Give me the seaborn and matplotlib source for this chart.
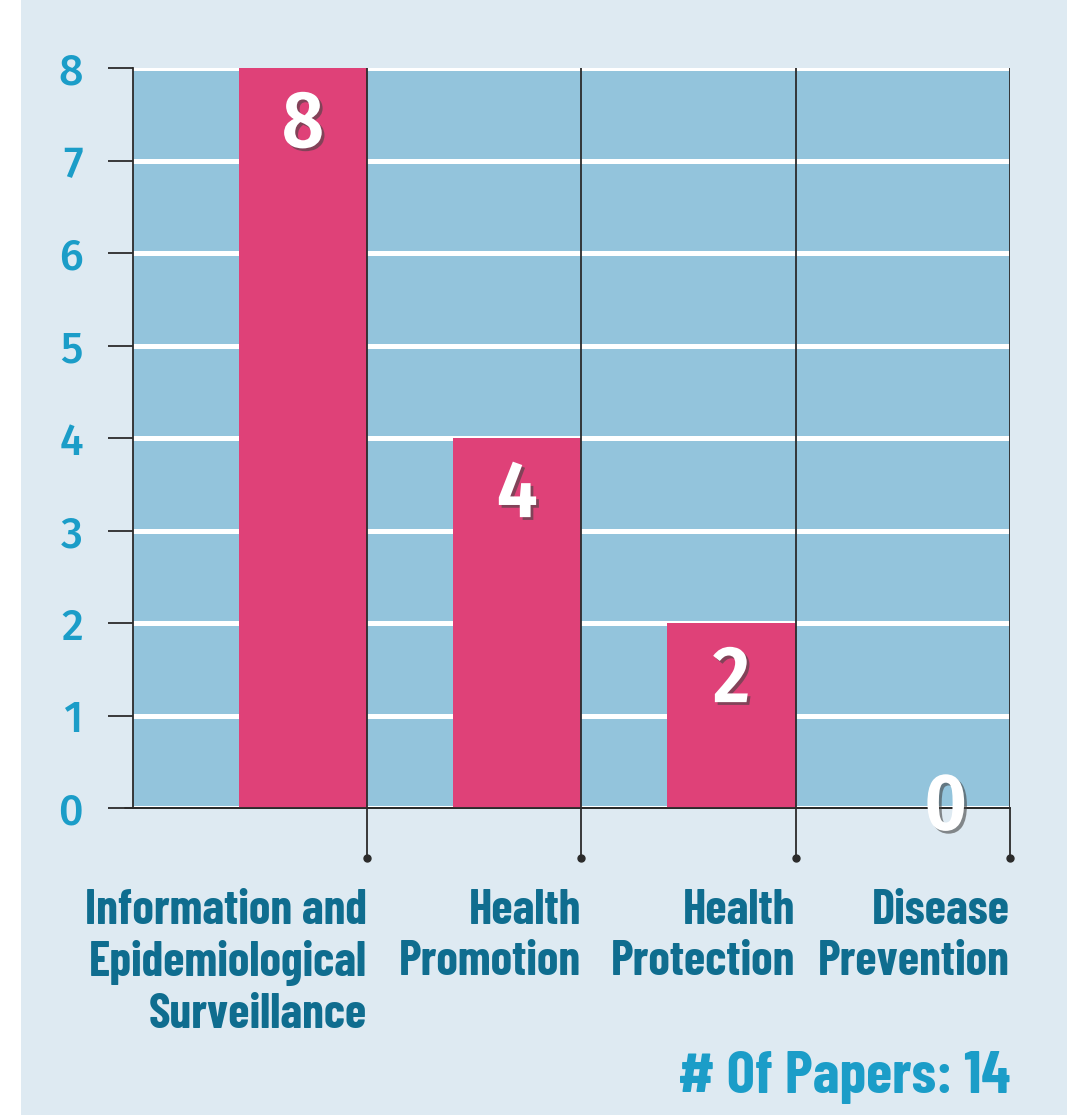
import matplotlib
matplotlib.use("Agg")
import matplotlib.pyplot as plt
import matplotlib.patheffects as pe
from matplotlib.patches import Rectangle
import seaborn as sns

categories = [
    "Information and\nEpidemiological\nSurveillance",
    "Health\nPromotion",
    "Health\nProtection",
    "Disease\nPrevention",
]
counts = [8, 4, 2, 0]
y_ticks = [0, 1, 2, 3, 4, 5, 6, 7, 8]
footer = "# Of Papers: 14"

PANEL = "#deeaf2"
PLOT_BG = "#93c4dc"
BAR = "#df4178"
TEAL_DARK = "#0f6d8f"
TEAL = "#1b9dc8"
LINE = "#2b2b2b"

LABEL_FONT = ["Barlow Condensed", "DejaVu Sans"]
NUM_FONT = ["Fira Sans Condensed", "Barlow Semi Condensed", "DejaVu Sans"]
TICK_FONT = ["Fira Sans", "Barlow", "DejaVu Sans"]

sns.set_theme(style="white")
plt.rcParams["font.family"] = LABEL_FONT

fig = plt.figure(figsize=(10.67, 11.15), dpi=100)
fig.patch.set_facecolor("white")
fig.add_artist(Rectangle((21 / 1067, 0), 1, 1, transform=fig.transFigure,
                         facecolor=PANEL, edgecolor="none", zorder=0))
ax = fig.add_axes([133 / 1067, 307 / 1115, 877 / 1067, 740 / 1115])
ax.set_facecolor(PLOT_BG)

sns.barplot(x=list(range(len(counts))), y=counts, color=BAR, saturation=1,
            width=0.6, linewidth=0, ax=ax, zorder=3)

ax.set_ylim(0, 8)
ax.set_xlim(-0.793, 3.3)
ax.set_yticks(y_ticks)
ax.yaxis.grid(True, color="white", linewidth=3.6)
ax.xaxis.grid(False)
ax.set_axisbelow(True)
ax.set_xlabel("")
ax.set_ylabel("")

for side in ["top", "right"]:
    ax.spines[side].set_visible(False)
for side in ["left", "bottom"]:
    ax.spines[side].set_color(LINE)
    ax.spines[side].set_linewidth(1.3)

ax.tick_params(axis="y", left=True, length=18, width=1.3, color=LINE, pad=18,
               labelsize=31, labelcolor=TEAL)
for lab in ax.get_yticklabels():
    lab.set_family(TICK_FONT)
    lab.set_fontweight("medium")

bounds = [i + 0.3 for i in range(len(counts))]
ax.set_xticks(bounds)
ax.set_xticklabels(categories, ha="right", multialignment="right",
                   fontsize=35, fontweight="bold", color=TEAL_DARK,
                   linespacing=1.2)
ax.tick_params(axis="x", bottom=True, length=36, width=1.3, color=LINE, pad=22)

# category separators through the plot and dots at the tick ends
ax.vlines(bounds, 0, 8, color=LINE, linewidth=1.3, zorder=4)
ax.plot(bounds, [-0.54] * len(bounds), "o", ms=5, color=LINE, clip_on=False, zorder=5)
ax.plot([-0.83, 3.3], [0, 0], color=LINE, linewidth=1.3, clip_on=False, zorder=5)

shadow = [pe.SimplePatchShadow(offset=(2, -2), shadow_rgbFace="#444444", alpha=0.6),
          pe.Normal()]
for i, v in enumerate(counts):
    if v > 0:
        ax.text(i, v - 0.2, str(v), ha="center", va="top", color="white",
                fontsize=58, fontweight="semibold", family=NUM_FONT,
                path_effects=shadow, zorder=6)
    else:
        ax.text(i, 0, str(v), ha="center", va="center", color="white",
                fontsize=58, fontweight="semibold", family=NUM_FONT,
                path_effects=shadow, zorder=6, clip_on=False)

fig.text(1010 / 1067, 1 - 1078 / 1115, footer, ha="right", va="center",
         color=TEAL, fontsize=43, fontweight="bold")

fig.savefig("out.png", dpi=100, facecolor=fig.get_facecolor())
